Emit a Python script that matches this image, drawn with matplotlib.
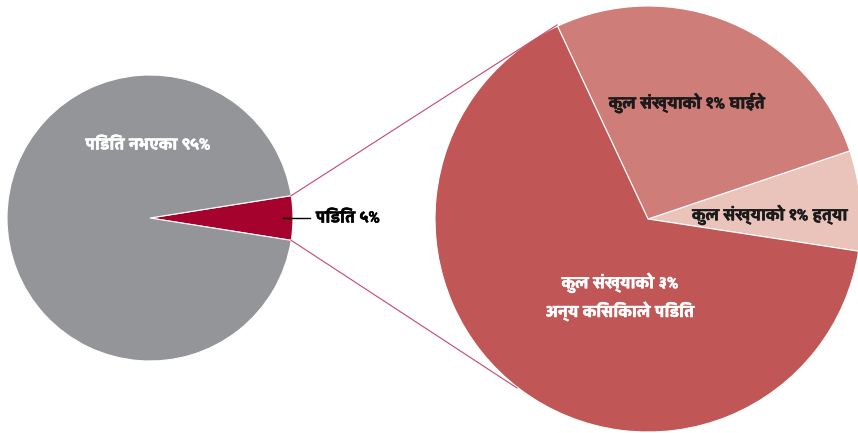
import matplotlib
matplotlib.use("Agg")
import matplotlib.pyplot as plt
from matplotlib import font_manager, patheffects
from matplotlib.ft2font import FT2Font
import numpy as np

# ---- data ----
outer_labels = ["पिडित ५%", "पिडित नभएका ९५%"]
outer_values = [5, 95]
inner_labels = ["कुल संख्याको १% हत्या", "कुल संख्याको १% घाईते", "कुल संख्याको ३%\nअन्य किसिकाले पिडित"]
inner_values = [7.6, 26.8, 65.6]

outer_colors = ["#a5022e", "#939598"]
inner_colors = ["#eac3bb", "#cf7d78", "#c05656"]

# find a font with Devanagari glyphs (prefer bold)
cands = []
for f in font_manager.fontManager.ttflist:
    try:
        cm = FT2Font(f.fname).get_charmap()
        if 0x092A in cm:
            w = f.weight if isinstance(f.weight, int) else (700 if "bold" in str(f.weight) else 400)
            cands.append((w, f.name))
    except Exception:
        pass
deva = None
if cands:
    cands.sort(reverse=True)
    deva = cands[0][1]
fam = [deva, "DejaVu Sans"] if deva else ["DejaVu Sans"]
plt.rcParams["font.family"] = fam

fig = plt.figure(figsize=(8.58, 4.33), dpi=100)
ax = fig.add_axes([0, 0, 1, 1])

lc = (150, 215); lr = 143
rc = (648, 214); rr = 213

ax.pie(outer_values, colors=outer_colors, startangle=-9, center=lc, radius=lr,
       wedgeprops=dict(edgecolor="white", linewidth=0.8), frame=True)
ax.pie(inner_values, colors=inner_colors, startangle=-8.7, center=rc, radius=rr,
       wedgeprops=dict(edgecolor="white", linewidth=0.8), frame=True)

a = np.deg2rad(9)
p_up = (lc[0] + lr*np.cos(a), lc[1] + lr*np.sin(a))
p_dn = (lc[0] + lr*np.cos(a), lc[1] - lr*np.sin(a))
ax.plot([p_up[0], 557], [p_up[1], 408], color="#c8486a", lw=0.8)
ax.plot([p_dn[0], 517], [p_dn[1], 45], color="#c8486a", lw=0.8)

# leader line for small slice
ax.plot([283, 310], [215, 215], color="black", lw=1)

ax.set_xlim(0, 858)
ax.set_ylim(0, 433)
ax.set_aspect("equal")
ax.axis("off")

fs = 12.5
def lab(x, y, s, c, ha="center"):
    ax.text(x, y, s, color=c, fontsize=fs, fontweight="bold", ha=ha, va="center",
            linespacing=1.5,
            path_effects=[patheffects.withStroke(linewidth=0.4, foreground=c)])

lab(148, 288, outer_labels[1], "white")
lab(316, 215, outer_labels[0], "black", ha="left")
lab(770, 218, inner_labels[0], "#1a1a1a")
lab(687, 330, inner_labels[1], "#1a1a1a")
lab(620, 136, inner_labels[2], "white")

fig.savefig("out.png", dpi=100)
